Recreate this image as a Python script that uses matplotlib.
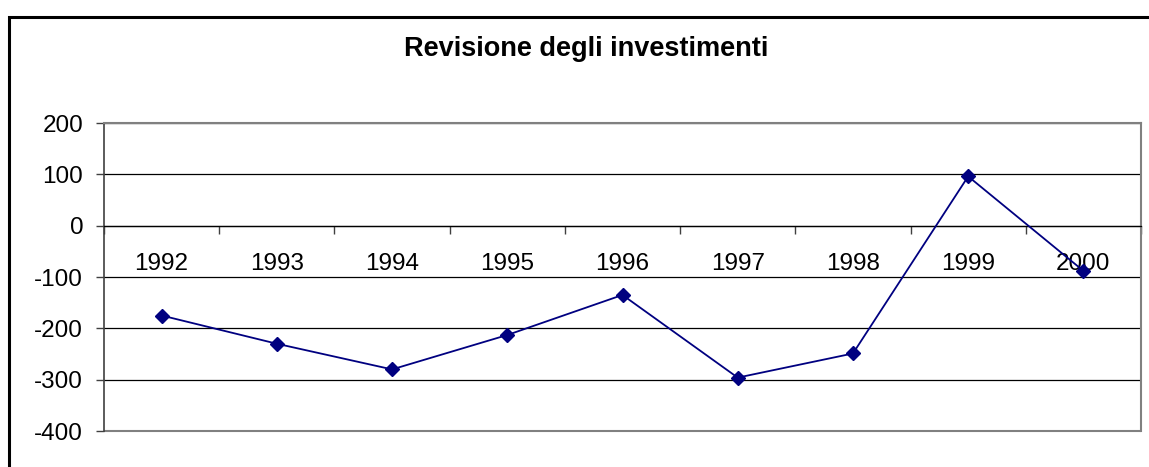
import numpy as np
import matplotlib
matplotlib.use("Agg")
import matplotlib.pyplot as plt
from matplotlib.patches import Rectangle

plt.rcParams['font.family'] = ['Liberation Sans', 'DejaVu Sans']
plt.rcParams['axes.unicode_minus'] = False

years = ['1992', '1993', '1994', '1995', '1996', '1997', '1998', '1999', '2000']
revisione = [-175, -230, -280, -213, -135, -296, -249, 96, -88]
y_ticks = [200, 100, 0, -100, -200, -300, -400]

fig = plt.figure(figsize=(11.49, 4.67), dpi=100)
ax = fig.add_axes([104/1149, 36/467, 1037/1149, 308/467])

x = np.arange(len(years))
ax.set_xlim(-0.5, len(years) - 0.5)
ax.set_ylim(-400, 200)

# gridlines
for v in y_ticks:
    ax.axhline(v, color='black', lw=0.9, zorder=1)

ax.plot(x, revisione, color='#000080', lw=1.3, marker='D', ms=7,
        markerfacecolor='#000080', markeredgecolor='#000080', zorder=3)

# plot area border (gray) + left axis
for s in ['top', 'right']:
    ax.spines[s].set_color('#808080')
    ax.spines[s].set_linewidth(1.5)
ax.spines['left'].set_color('#404040')
ax.spines['left'].set_linewidth(1.2)
ax.spines['bottom'].set_position(('data', 0))
ax.spines['bottom'].set_color('black')
ax.spines['bottom'].set_linewidth(0.9)
ax.add_patch(Rectangle((0, 0), 1, 0, transform=ax.transAxes, fill=False,
                       edgecolor='#808080', lw=1.5, clip_on=False))

ax.set_yticks(y_ticks)
ax.set_yticklabels([str(v) for v in y_ticks])
ax.tick_params(axis='y', length=6, width=1, pad=9, labelsize=17.5, color='#404040')

ax.set_xticks(x)
ax.set_xticklabels(years)
ax.set_xticks(np.arange(-0.5, len(years)), minor=True)
ax.tick_params(axis='x', which='major', length=0, pad=19.5, labelsize=17.5)
ax.tick_params(axis='x', which='minor', length=6, width=1, color='#404040')

fig.text(586/1149, 1 - 49/467, 'Revisione degli investimenti', ha='center', va='center',
         fontsize=19.5, fontweight='bold')

# chart frame
fig.patches.append(Rectangle((9/1149, -0.2), 1.5, (467 - 17)/467 + 0.2,
                             transform=fig.transFigure, fill=False,
                             edgecolor='black', lw=2.2))

fig.savefig('out.png', dpi=100)
